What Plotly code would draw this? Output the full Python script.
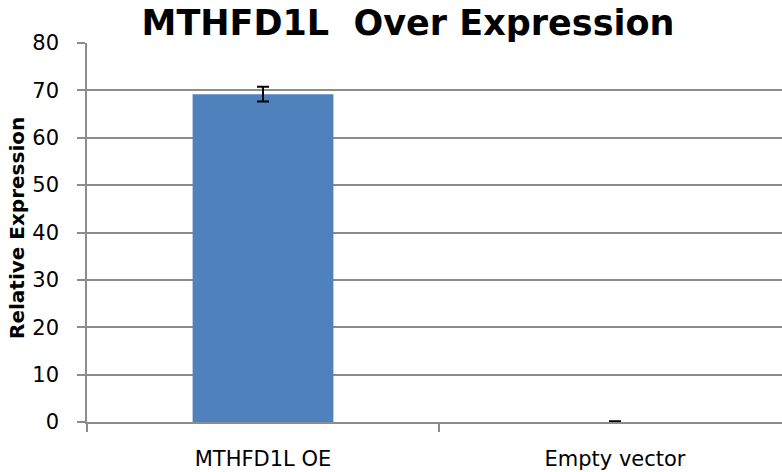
import plotly.graph_objects as go

# Relative expression of MTHFD1L after over-expression vs. empty vector control
categories = ["MTHFD1L OE", "Empty vector"]
expression = [69.2, 0.0]
expression_err = [1.55, 0.15]
y_ticks = [0, 10, 20, 30, 40, 50, 60, 70, 80]

FONT = "DejaVu Sans"
GRID = "#8c8c8c"

fig = go.Figure(
    go.Bar(
        x=categories,
        y=expression,
        width=0.4,
        marker=dict(color="#4F81BD", line=dict(width=0)),
        error_y=dict(type="data", array=expression_err, visible=True,
                     color="black", thickness=2, width=6),
    )
)

fig.update_layout(
    width=782,
    height=472,
    margin=dict(l=87, r=0, t=43, b=50),
    paper_bgcolor="white",
    plot_bgcolor="white",
    showlegend=False,
    font=dict(family=FONT, color="black"),
    title=dict(
        text="<b>MTHFD1L&nbsp; Over Expression</b>",
        font=dict(family=FONT, size=35, color="black"),
        x=408 / 782, xanchor="center", xref="container",
        y=1 - 10 / 472, yanchor="top", yref="container",
    ),
    annotations=[
        dict(
            text="<b>Relative Expression</b>",
            xref="paper", yref="paper",
            x=-70 / 695, y=(422 - 228) / 379,
            xanchor="center", yanchor="middle",
            textangle=-90, showarrow=False,
            font=dict(family=FONT, size=20, color="black"),
        )
    ],
)

fig.update_xaxes(
    range=[-0.5, -0.5 + 695 / 352],
    showline=True, linecolor=GRID, linewidth=1.5,
    ticks="outside", tickson="boundaries", ticklen=8, tickcolor=GRID, tickwidth=1.5,
    tickfont=dict(family=FONT, size=21, color="black"),
    ticklabelstandoff=17,
    showgrid=False, zeroline=False,
)

fig.update_yaxes(
    range=[0, 80],
    tickvals=y_ticks,
    showline=True, linecolor=GRID, linewidth=1.5,
    ticks="outside", ticklen=8, tickcolor=GRID, tickwidth=1.5,
    tickfont=dict(family=FONT, size=21, color="black"),
    ticklabelstandoff=14,
    showgrid=True, gridcolor=GRID, gridwidth=1.5,
    zeroline=False,
)

fig.write_html("out.html")
